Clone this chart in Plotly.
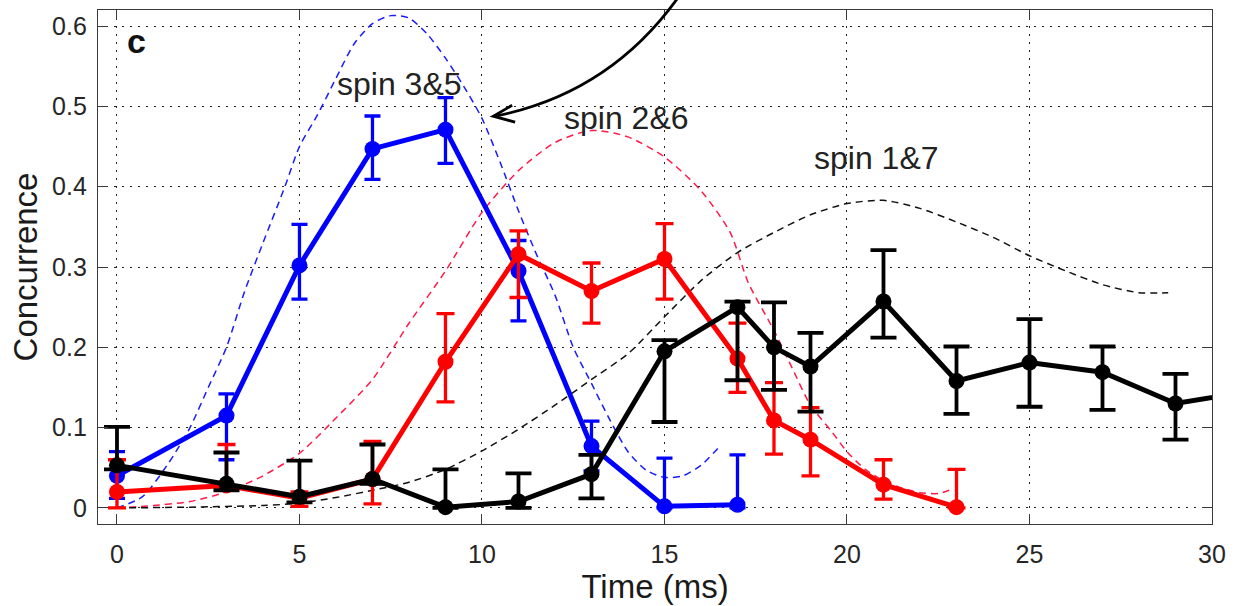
import numpy as np
import plotly.graph_objects as go

# ---------------- data ----------------
# measured concurrence, spin pair 3&5 (blue)
t_35 = [0, 3, 5, 7, 9, 11, 13, 15, 17]
c_35 = [0.040, 0.115, 0.302, 0.447, 0.471, 0.295, 0.077, 0.002, 0.004]
hi_35 = [0.070, 0.142, 0.353, 0.488, 0.511, 0.333, 0.108, 0.062, 0.066]
lo_35 = [0.012, 0.060, 0.260, 0.409, 0.429, 0.233, 0.046, 0.000, 0.000]

# measured concurrence, spin pair 2&6 (red)
t_26 = [0, 3, 5, 7, 9, 11, 13, 15, 17, 18, 19, 21, 23]
c_26 = [0.020, 0.028, 0.012, 0.036, 0.182, 0.316, 0.270, 0.310, 0.186, 0.109, 0.085, 0.029, 0.001]
hi_26 = [0.060, 0.079, 0.020, 0.083, 0.242, 0.345, 0.305, 0.354, 0.230, 0.156, 0.125, 0.060, 0.048]
lo_26 = [0.000, 0.022, 0.002, 0.005, 0.132, 0.262, 0.230, 0.260, 0.144, 0.067, 0.040, 0.011, 0.000]

# measured concurrence, spin pair 1&7 (black)
t_17 = [0, 3, 5, 7, 9, 11, 13, 15, 17, 18, 19, 21, 23, 25, 27, 29, 31]
c_17 = [0.053, 0.030, 0.014, 0.036, 0.001, 0.008, 0.042, 0.195, 0.250, 0.200, 0.176, 0.257,
        0.158, 0.181, 0.169, 0.130, 0.145]
hi_17 = [0.101, 0.069, 0.059, 0.079, 0.048, 0.043, 0.066, 0.209, 0.257, 0.256, 0.218, 0.321,
         0.201, 0.235, 0.201, 0.167, 0.145]
lo_17 = [0.048, 0.022, 0.007, 0.030, 0.000, 0.000, 0.012, 0.107, 0.159, 0.147, 0.120, 0.212,
         0.117, 0.126, 0.122, 0.085, 0.145]

# theoretical curves (dashed)
th_t_35 = [0, 0.7, 1.4, 2.0, 2.5, 3.0, 3.5, 4.0, 4.6, 5.0, 5.5, 6.0, 6.5, 7.0, 7.5, 8.0, 8.5,
           9.0, 9.5, 10.0, 10.5, 11.0, 11.5, 12.0, 12.5, 13.0, 13.5, 14.0, 14.5, 15.0, 15.5,
           16.0, 16.5]
th_c_35 = [0.0, 0.014, 0.055, 0.10, 0.15, 0.20, 0.27, 0.33, 0.40, 0.45, 0.49, 0.535, 0.578,
           0.603, 0.613, 0.61, 0.59, 0.56, 0.525, 0.485, 0.43, 0.37, 0.315, 0.265, 0.20,
           0.155, 0.11, 0.07, 0.047, 0.038, 0.040, 0.053, 0.076]

th_t_26 = [0, 1, 2, 3, 4, 5, 6, 7, 8, 9, 10, 11, 12, 13, 14, 15, 16, 16.8, 17.3, 18, 18.5,
           19, 19.6, 20, 20.5, 21, 21.5, 22, 22.5, 22.8]
th_c_26 = [0.0, 0.003, 0.008, 0.02, 0.04, 0.068, 0.112, 0.16, 0.23, 0.295, 0.368, 0.42,
           0.455, 0.47, 0.462, 0.437, 0.395, 0.343, 0.28, 0.221, 0.174, 0.128, 0.094, 0.07,
           0.048, 0.034, 0.025, 0.019, 0.018, 0.022]

th_t_17 = [0, 2, 4, 5, 6, 7, 8, 9, 10, 11, 12, 13, 14, 15, 16, 17, 18, 19, 20, 21, 22, 23,
           24, 25, 26, 27, 28, 28.8]
th_c_17 = [0.0, 0.001, 0.003, 0.006, 0.013, 0.022, 0.032, 0.048, 0.071, 0.098, 0.128, 0.16,
           0.192, 0.238, 0.283, 0.318, 0.343, 0.365, 0.379, 0.383, 0.373, 0.356, 0.337, 0.314,
           0.295, 0.278, 0.268, 0.268]

x_ticks = [0, 5, 10, 15, 20, 25, 30]
y_ticks = [0, 0.1, 0.2, 0.3, 0.4, 0.5, 0.6]
y_tick_text = ["0", "0.1", "0.2", "0.3", "0.4", "0.5", "0.6"]

labels = ["spin 3&5", "spin 2&6", "spin 1&7"]
label_x = [7.75, 13.96, 20.8]
label_y = [0.528, 0.486, 0.436]

# ---------------- figure ----------------
FONT = "Liberation Sans, Arial, Helvetica, sans-serif"
W, H = 1235, 606
ML, MR, MT, MB = 98, 18, 9, 79

fig = go.Figure()

dash_style = "7px,5px"
for tt, cc, col in [(th_t_35, th_c_35, "#1a1aff"),
                    (th_t_26, th_c_26, "#ff1a4a"),
                    (th_t_17, th_c_17, "#111111")]:
    fig.add_trace(go.Scatter(x=tt, y=cc, mode="lines",
                             line=dict(color=col, width=1.5, dash=dash_style, shape="spline",
                                       smoothing=0.7),
                             hoverinfo="skip", showlegend=False))


def meas(tt, cc, hi, lo, col, cap, thick):
    cc = np.array(cc)
    plus = np.array(hi) - cc
    minus = cc - np.array(lo)
    return go.Scatter(
        x=tt, y=cc, mode="lines+markers",
        line=dict(color=col, width=5),
        marker=dict(color=col, size=16, line=dict(width=0)),
        error_y=dict(type="data", symmetric=False, array=plus, arrayminus=minus,
                     color=col, thickness=thick, width=cap),
        showlegend=False)


fig.add_trace(meas(t_35, c_35, hi_35, lo_35, "#0000ff", 8, 3.3))
fig.add_trace(meas(t_26, c_26, hi_26, lo_26, "#ff0000", 9, 3.3))
fig.add_trace(meas(t_17, c_17, hi_17, lo_17, "#000000", 13, 3.8))

for txt, lx, ly in zip(labels, label_x, label_y):
    fig.add_annotation(x=lx, y=ly, text=txt, showarrow=False, xanchor="center",
                       yanchor="middle", font=dict(family=FONT, size=32, color="#222222"))

# panel letter
fig.add_annotation(xref="paper", yref="paper", x=(137 - ML) / (W - ML - MR),
                   y=(H - MB - 40) / (H - MB - MT), text="<b>c</b>", showarrow=False,
                   xanchor="center", yanchor="middle",
                   font=dict(family=FONT, size=34, color="#111111"))


def px(xp, yp):
    return ((xp - ML) / (W - ML - MR), (H - MB - yp) / (H - MB - MT))


# curved arrow (decoration) in paper coordinates
p0 = px(681, -4)
pc = px(612, 93)
p1 = px(497, 116)
fig.add_shape(type="path", xref="paper", yref="paper",
              path=f"M {p0[0]},{p0[1]} Q {pc[0]},{pc[1]} {p1[0]},{p1[1]}",
              line=dict(color="black", width=2.8))
w1 = px(514, 105)
tip = px(495, 116)
w2 = px(517, 122)
fig.add_shape(type="path", xref="paper", yref="paper",
              path=f"M {w1[0]},{w1[1]} L {tip[0]},{tip[1]} L {w2[0]},{w2[1]}",
              line=dict(color="black", width=2.8))

axis_common = dict(
    showline=True, linecolor="#3a3a3a", linewidth=1.3, mirror="ticks",
    ticks="inside", ticklen=10, tickwidth=1, tickcolor="#3a3a3a",
    showgrid=True, gridcolor="#222222", gridwidth=1, griddash="2px,6px",
    zeroline=False,
    tickfont=dict(family=FONT, size=25, color="#262626"),
)

fig.update_xaxes(range=[-0.52, 30], tickvals=x_ticks, ticktext=[str(v) for v in x_ticks],
                 title=dict(text="Time (ms)", font=dict(family=FONT, size=33, color="#1a1a1a"),
                            standoff=6),
                 ticklabelstandoff=8, **axis_common)
fig.update_yaxes(range=[-0.02, 0.62], tickvals=y_ticks, ticktext=y_tick_text,
                 title=dict(text="Concurrence", font=dict(family=FONT, size=33, color="#1a1a1a"),
                            standoff=4),
                 ticklabelstandoff=5, **axis_common)

fig.update_layout(width=W, height=H, autosize=False,
                  margin=dict(l=ML, r=MR, t=MT, b=MB),
                  paper_bgcolor="white", plot_bgcolor="white",
                  font=dict(family=FONT))

fig.write_html("out.html")
